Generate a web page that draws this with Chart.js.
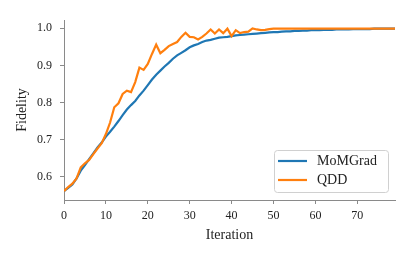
<!DOCTYPE html>
<html><head><meta charset="utf-8">
<script src="https://cdn.jsdelivr.net/npm/chart.js@4"></script>
<style>html,body{margin:0;padding:0;background:#fff}#wrap{width:415px;height:257px;position:relative}</style>
</head><body><div id="wrap"><canvas id="c"></canvas></div>
<script>
const iterations = [0,1,2,3,4,5,6,7,8,9,10,11,12,13,14,15,16,17,18,19,20,21,22,23,24,25,26,27,28,29,30,31,32,33,34,35,36,37,38,39,40,41,42,43,44,45,46,47,48,49,50,51,52,53,54,55,56,57,58,59,60,61,62,63,64,65,66,67,68,69,70,71,72,73,74,75,76,77,78,79];
const momgrad = [0.561,0.570,0.579,0.595,0.616,0.631,0.647,0.663,0.679,0.692,0.708,0.721,0.735,0.750,0.766,0.781,0.793,0.804,0.819,0.832,0.847,0.862,0.875,0.886,0.897,0.907,0.918,0.927,0.934,0.941,0.949,0.954,0.958,0.963,0.967,0.969,0.972,0.975,0.976,0.977,0.979,0.981,0.982,0.983,0.984,0.985,0.986,0.987,0.988,0.989,0.990,0.990,0.991,0.992,0.992,0.993,0.993,0.994,0.994,0.995,0.995,0.995,0.996,0.996,0.996,0.997,0.997,0.997,0.997,0.998,0.998,0.998,0.998,0.998,0.999,0.999,0.999,0.999,0.999,0.999];
const qdd = [0.561,0.572,0.581,0.595,0.625,0.636,0.645,0.661,0.676,0.690,0.715,0.746,0.787,0.798,0.823,0.832,0.828,0.855,0.894,0.888,0.904,0.931,0.956,0.933,0.942,0.952,0.958,0.963,0.977,0.988,0.977,0.976,0.970,0.977,0.986,0.997,0.986,0.997,0.987,0.999,0.979,0.995,0.987,0.990,0.991,1.000,0.997,0.995,0.996,0.998,0.999,0.999,0.999,0.999,0.999,0.999,0.999,0.999,0.999,0.999,0.999,0.999,0.999,0.999,0.999,0.999,0.999,0.999,0.999,0.999,0.999,0.999,0.999,0.999,0.999,0.999,0.999,0.999,0.999,0.999];
const xTickValues = [0,10,20,30,40,50,60,70];
const yTickValues = [0.6,0.7,0.8,0.9,1.0];
const seriesNames = ['MoMGrad','QDD'];

const FONT = '"Liberation Serif", serif';
const AXIS = '#8a8a8a';
const TXT = '#222';

const legendPlugin = {
  id: 'boxLegend',
  afterDatasetsDraw(chart) {
    const ctx = chart.ctx, a = chart.chartArea;
    const w = 114, h = 42;
    const x = a.right - 7 - w, y = a.bottom - 8 - h;
    ctx.save();
    ctx.beginPath();
    ctx.roundRect(x + 0.5, y + 0.5, w, h, 3);
    ctx.fillStyle = 'rgba(255,255,255,0.85)';
    ctx.fill();
    ctx.strokeStyle = '#d0d0d0';
    ctx.lineWidth = 1;
    ctx.stroke();
    ctx.font = '14px ' + FONT;
    ctx.textBaseline = 'middle';
    [0,1].forEach((di, k) => {
      const ds = chart.data.datasets[di];
      const cy = y + 11 + k * 19;
      ctx.beginPath();
      ctx.moveTo(x + 4, cy);
      ctx.lineTo(x + 33, cy);
      ctx.strokeStyle = ds.borderColor;
      ctx.lineWidth = 2.2;
      ctx.stroke();
      ctx.fillStyle = TXT;
      ctx.fillText(ds.label, x + 43, cy + 0.5);
    });
    ctx.restore();
  }
};

new Chart(document.getElementById('c'), {
  type: 'line',
  data: {
    datasets: [
      { label: seriesNames[0], data: iterations.map((it, i) => ({x: it, y: momgrad[i]})), borderColor: '#1f77b4', borderWidth: 2.2, pointRadius: 0, tension: 0, order: 1 },
      { label: seriesNames[1], data: iterations.map((it, i) => ({x: it, y: qdd[i]})), borderColor: '#ff7f0e', borderWidth: 2.2, pointRadius: 0, tension: 0, order: 0 }
    ]
  },
  options: {
    responsive: true,
    maintainAspectRatio: false,
    animation: false,
    events: [],
    layout: { padding: { top: 20, right: 20, left: 0, bottom: 0 } },
    plugins: { legend: { display: false }, tooltip: { enabled: false } },
    scales: {
      x: {
        type: 'linear', min: 0, max: 79,
        afterFit(s) { s.height = 57; },
        afterBuildTicks(s) { s.ticks = xTickValues.map(v => ({value: v})); },
        grid: { drawOnChartArea: false, drawTicks: true, tickLength: 4, tickColor: AXIS, tickWidth: 1 },
        border: { color: AXIS, width: 1 },
        ticks: { color: TXT, font: { family: FONT, size: 12 }, padding: 5, maxRotation: 0, callback: v => String(v) },
        title: { display: true, text: 'Iteration', color: TXT, font: { family: FONT, size: 14 }, padding: { top: 0, bottom: 13.5 } }
      },
      y: {
        type: 'linear', min: 0.537, max: 1.0225,
        afterFit(s) { s.width = 64; },
        afterBuildTicks(s) { s.ticks = yTickValues.map(v => ({value: v})); },
        grid: { drawOnChartArea: false, drawTicks: true, tickLength: 4, tickColor: AXIS, tickWidth: 1 },
        border: { color: AXIS, width: 1 },
        ticks: { color: TXT, font: { family: FONT, size: 12 }, padding: 8, callback: v => v.toFixed(1) },
        title: { display: true, text: 'Fidelity', color: TXT, font: { family: FONT, size: 14 }, padding: { top: 14, bottom: 0 } }
      }
    }
  },
  plugins: [legendPlugin]
});
</script>
</body></html>
